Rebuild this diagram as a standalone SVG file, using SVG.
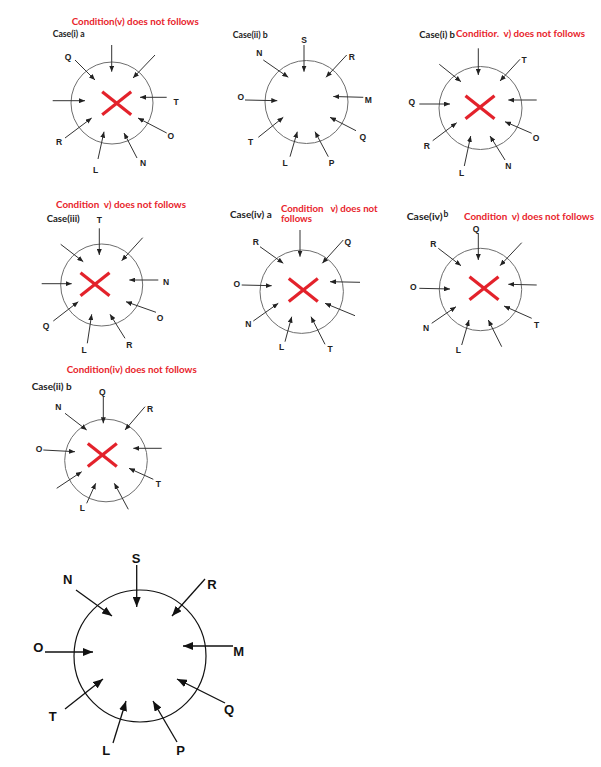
<svg xmlns="http://www.w3.org/2000/svg" width="601" height="767" viewBox="0 0 601 767">
<style>
.ring{fill:none;stroke:#6e6e6e;stroke-width:1}
.bigring{fill:none;stroke:#111;stroke-width:1.2}
.ar{stroke:#333;stroke-width:1;fill:none;marker-end:url(#ah)}
.bar{stroke:#111;stroke-width:1.3;fill:none;marker-end:url(#bh)}
.lb{font-family:"Liberation Sans",Arial,sans-serif;font-weight:bold;font-size:8.5px;fill:#222;text-anchor:middle}
.blb{font-family:"Liberation Sans",Arial,sans-serif;font-weight:bold;font-size:13px;fill:#111;text-anchor:middle}
.red{font-family:Lato,"Open Sans",sans-serif;font-weight:bold;font-size:9.5px;fill:#e8242c;white-space:pre}
.cs{font-family:Lato,"Open Sans",sans-serif;font-weight:bold;font-size:8.5px;fill:#222}
.x{stroke:#e3222b;stroke-width:3.2;stroke-linecap:butt;fill:none}
</style>
<defs>
<marker id="ah" viewBox="0 0 10 10" refX="10" refY="5" markerWidth="6" markerHeight="5" markerUnits="userSpaceOnUse" orient="auto" preserveAspectRatio="none"><path d="M0,0 L10,5 L0,10 z" fill="#222"/></marker>
<marker id="bh" viewBox="0 0 10 10" refX="10" refY="5" markerWidth="10" markerHeight="8" markerUnits="userSpaceOnUse" orient="auto" preserveAspectRatio="none"><path d="M0,0 L10,5 L0,10 z" fill="#111"/></marker>
<g id="cross"><line class="x" x1="-14.5" y1="-11.5" x2="14.5" y2="11.5"/><line class="x" x1="14.5" y1="-11.5" x2="-14.5" y2="11.5"/></g>
</defs>
<rect width="601" height="767" fill="#fff"/>

<!-- Panel 1 -->
<g id="case-i-a">
<text class="red" x="71.7" y="25" textLength="127" lengthAdjust="spacingAndGlyphs">Condition(v) does not follows</text>
<text class="cs" x="52.7" y="36.7" textLength="32" lengthAdjust="spacingAndGlyphs">Case(i) a</text>
<g id="p1-circle"><circle class="ring" cx="112" cy="103" r="41"/><use href="#cross" x="116.7" y="103.3"/></g>
<g id="p1-connectors">
<line class="ar" x1="111.7" y1="45" x2="111.7" y2="71.7"/>
<line class="ar" x1="75" y1="60" x2="95" y2="80"/>
<line class="ar" x1="155" y1="55" x2="133" y2="78"/>
<line class="ar" x1="52.7" y1="100.7" x2="85" y2="100.7"/>
<line class="ar" x1="166.7" y1="97.3" x2="140" y2="97.3"/>
<line class="ar" x1="65" y1="138" x2="91.7" y2="118"/>
<line class="ar" x1="166.7" y1="133" x2="138" y2="118"/>
<line class="ar" x1="98" y1="159" x2="104" y2="131.7"/>
<line class="ar" x1="137" y1="158" x2="124" y2="133"/>
</g>
<text class="lb" x="68" y="60">Q</text>
<text class="lb" x="176" y="104.7">T</text>
<text class="lb" x="59" y="144.7">R</text>
<text class="lb" x="170.7" y="139">O</text>
<text class="lb" x="95.7" y="173">L</text>
<text class="lb" x="143" y="166">N</text>
</g>

<!-- Panel 2 -->
<g id="case-ii-b-1">
<text class="cs" x="232.7" y="38.3" textLength="35" lengthAdjust="spacingAndGlyphs">Case(ii) b</text>
<g id="p2-circle"><circle class="ring" cx="306.5" cy="102" r="41.5"/></g>
<g id="p2-connectors">
<line class="ar" x1="304" y1="45" x2="304" y2="71.7"/>
<line class="ar" x1="263.3" y1="60" x2="288.3" y2="77.3"/>
<line class="ar" x1="346.7" y1="55" x2="326" y2="77.3"/>
<line class="ar" x1="363.3" y1="97.3" x2="333.3" y2="96.5"/>
<line class="ar" x1="245" y1="100" x2="277.3" y2="100.7"/>
<line class="ar" x1="258.3" y1="137.3" x2="283.3" y2="117.3"/>
<line class="ar" x1="356" y1="130.7" x2="330" y2="117.3"/>
<line class="ar" x1="290" y1="156.7" x2="297.3" y2="131.7"/>
<line class="ar" x1="328.3" y1="156.7" x2="315" y2="131.7"/>
</g>
<text class="lb" x="304" y="43">S</text>
<text class="lb" x="259.3" y="56.3">N</text>
<text class="lb" x="351.7" y="59.7">R</text>
<text class="lb" x="368.3" y="103">M</text>
<text class="lb" x="240.7" y="100.3">O</text>
<text class="lb" x="250.7" y="144.7">T</text>
<text class="lb" x="362.7" y="139.7">Q</text>
<text class="lb" x="285" y="165.7">L</text>
<text class="lb" x="331.7" y="165.7">P</text>
</g>

<!-- Panel 3 -->
<g id="case-i-b">
<text class="cs" x="419.3" y="38.3" textLength="35.7" lengthAdjust="spacingAndGlyphs">Case(i) b</text>
<text class="red" x="456" y="36.7" textLength="129" lengthAdjust="spacingAndGlyphs">Conditior.  v) does not follows</text>
<g id="p3-circle"><circle class="ring" cx="480.5" cy="108" r="41.5"/><use href="#cross" x="480" y="107.3"/></g>
<g id="p3-connectors">
<line class="ar" x1="478.3" y1="48.3" x2="478.3" y2="75"/>
<line class="ar" x1="439.3" y1="64.3" x2="461" y2="81.7"/>
<line class="ar" x1="520" y1="59.3" x2="500" y2="81"/>
<line class="ar" x1="419.3" y1="104" x2="450" y2="104"/>
<line class="ar" x1="536.7" y1="100" x2="508.3" y2="100"/>
<line class="ar" x1="432.7" y1="140.7" x2="456.7" y2="122.7"/>
<line class="ar" x1="531.7" y1="133.3" x2="505" y2="121.7"/>
<line class="ar" x1="464.3" y1="166" x2="470.7" y2="136"/>
<line class="ar" x1="505" y1="160" x2="490" y2="136"/>
</g>
<text class="lb" x="524" y="63">T</text>
<text class="lb" x="411.7" y="104.7">Q</text>
<text class="lb" x="426.7" y="149">R</text>
<text class="lb" x="536" y="141.3">O</text>
<text class="lb" x="461.7" y="175.7">L</text>
<text class="lb" x="508.3" y="169">N</text>
</g>

<!-- Panel 4 -->
<g id="case-iii">
<text class="red" x="56" y="208.3" textLength="130" lengthAdjust="spacingAndGlyphs">Condition  v) does not follows</text>
<text class="cs" x="46.7" y="222.3" textLength="33" lengthAdjust="spacingAndGlyphs">Case(iii)</text>
<g id="p4-circle"><circle class="ring" cx="101.7" cy="285" r="41"/><use href="#cross" x="95" y="284.3"/></g>
<g id="p4-connectors">
<line class="ar" x1="99.3" y1="228.3" x2="99.3" y2="255"/>
<line class="ar" x1="60.7" y1="244.3" x2="83.3" y2="261.7"/>
<line class="ar" x1="142.7" y1="237.7" x2="121.7" y2="260.7"/>
<line class="ar" x1="41.7" y1="283.7" x2="71.7" y2="283.7"/>
<line class="ar" x1="158.3" y1="280" x2="129.3" y2="280"/>
<line class="ar" x1="53.3" y1="321" x2="78.3" y2="301.7"/>
<line class="ar" x1="156" y1="312.3" x2="126" y2="301.7"/>
<line class="ar" x1="87.3" y1="343.3" x2="91.7" y2="314.3"/>
<line class="ar" x1="125" y1="338.3" x2="110" y2="314.3"/>
</g>
<text class="lb" x="99.3" y="223">T</text>
<text class="lb" x="166" y="284.7">N</text>
<text class="lb" x="46" y="328.7">Q</text>
<text class="lb" x="160" y="320.7">O</text>
<text class="lb" x="84" y="353">L</text>
<text class="lb" x="129.3" y="348">R</text>
</g>

<!-- Panel 5 -->
<g id="case-iv-a">
<text class="cs" x="230" y="217.7" textLength="41.7" lengthAdjust="spacingAndGlyphs">Case(iv) a</text>
<text class="red" x="281" y="211.7" textLength="96.7" lengthAdjust="spacingAndGlyphs">Condition   v) does not</text>
<text class="red" x="281" y="222.3" textLength="31" lengthAdjust="spacingAndGlyphs">follows</text>
<g id="p5-circle"><circle class="ring" cx="301.7" cy="291.7" r="41.7"/><use href="#cross" x="303.3" y="290"/></g>
<g id="p5-connectors">
<line class="ar" x1="300" y1="230" x2="300" y2="256.7"/>
<line class="ar" x1="260" y1="246.7" x2="283.3" y2="263.3"/>
<line class="ar" x1="343.3" y1="240" x2="322.3" y2="263.3"/>
<line class="ar" x1="241.7" y1="285" x2="271.7" y2="285.7"/>
<line class="ar" x1="360" y1="282.3" x2="330" y2="281.7"/>
<line class="ar" x1="253.3" y1="321" x2="278.3" y2="303.3"/>
<line class="ar" x1="355" y1="315.7" x2="325" y2="303.3"/>
<line class="ar" x1="285" y1="341.7" x2="291.7" y2="316.7"/>
<line class="ar" x1="325" y1="344.3" x2="311" y2="316.7"/>
</g>
<text class="lb" x="255.7" y="244.7">R</text>
<text class="lb" x="347.7" y="244.7">Q</text>
<text class="lb" x="236.7" y="287.3">O</text>
<text class="lb" x="248.3" y="327.3">N</text>
<text class="lb" x="281.7" y="349.7">L</text>
<text class="lb" x="330" y="352">T</text>
</g>

<!-- Panel 6 -->
<g id="case-iv-b">
<text class="cs" x="406.7" y="220" textLength="36" lengthAdjust="spacingAndGlyphs">Case(iv)</text>
<text class="cs" x="443.5" y="217.3">b</text>
<text class="red" x="464" y="220" textLength="130" lengthAdjust="spacingAndGlyphs">Condition  v) does not follows</text>
<g id="p6-circle"><circle class="ring" cx="480.5" cy="289.5" r="41.2"/><use href="#cross" x="484" y="288.3"/></g>
<g id="p6-connectors">
<line class="ar" x1="478.3" y1="233.3" x2="478.3" y2="260"/>
<line class="ar" x1="438.3" y1="248.3" x2="461" y2="265.7"/>
<line class="ar" x1="521.7" y1="242.7" x2="500" y2="265.7"/>
<line class="ar" x1="419.3" y1="288.3" x2="450" y2="289"/>
<line class="ar" x1="536.7" y1="285" x2="508.3" y2="284.3"/>
<line class="ar" x1="431.7" y1="323.3" x2="456" y2="306.7"/>
<line class="ar" x1="531.7" y1="318.3" x2="504" y2="306"/>
<line class="ar" x1="461.7" y1="345" x2="469" y2="320"/>
<line class="ar" x1="501.7" y1="346.7" x2="488.3" y2="320"/>
</g>
<text class="lb" x="476" y="232.3">Q</text>
<text class="lb" x="433.3" y="247">R</text>
<text class="lb" x="413.3" y="290.3">O</text>
<text class="lb" x="426" y="331.3">N</text>
<text class="lb" x="536.7" y="328">T</text>
<text class="lb" x="458.3" y="353">L</text>
</g>

<!-- Panel 7 -->
<g id="case-ii-b-2">
<text class="red" x="66.7" y="373.3" textLength="130" lengthAdjust="spacingAndGlyphs">Condition(iv) does not follows</text>
<text class="cs" x="31.7" y="390" textLength="40" lengthAdjust="spacingAndGlyphs">Case(ii) b</text>
<g id="p7-circle"><circle class="ring" cx="106" cy="460.5" r="41.3"/><use href="#cross" x="102.3" y="455"/></g>
<g id="p7-connectors">
<line class="ar" x1="103.3" y1="396.7" x2="103.3" y2="423.3"/>
<line class="ar" x1="65" y1="413.3" x2="86.7" y2="430"/>
<line class="ar" x1="145" y1="406.7" x2="125" y2="430"/>
<line class="ar" x1="43.3" y1="450" x2="75" y2="451.7"/>
<line class="ar" x1="161.7" y1="448.3" x2="133.3" y2="448.3"/>
<line class="ar" x1="56.7" y1="488.3" x2="81.7" y2="471.7"/>
<line class="ar" x1="153.3" y1="479.3" x2="129" y2="468.3"/>
<line class="ar" x1="86.7" y1="503.3" x2="95.7" y2="483.3"/>
<line class="ar" x1="128.3" y1="509.3" x2="114.3" y2="483.3"/>
</g>
<text class="lb" x="102.3" y="394.7">Q</text>
<text class="lb" x="58.3" y="409.7">N</text>
<text class="lb" x="150" y="412.3">R</text>
<text class="lb" x="39" y="452.3">O</text>
<text class="lb" x="158.3" y="487">T</text>
<text class="lb" x="82.3" y="511.3">L</text>
</g>

<!-- Big panel -->
<g id="final-arrangement">
<g id="big-circle"><circle class="bigring" cx="140" cy="656" r="66"/></g>
<g id="big-connectors">
<line class="bar" x1="136.7" y1="565" x2="136.7" y2="607"/>
<line class="bar" x1="76" y1="590" x2="112" y2="616"/>
<line class="bar" x1="205" y1="579" x2="172" y2="616"/>
<line class="bar" x1="233" y1="646" x2="183" y2="646"/>
<line class="bar" x1="45" y1="652" x2="93" y2="652"/>
<line class="bar" x1="65" y1="709" x2="103" y2="679"/>
<line class="bar" x1="113" y1="743" x2="126" y2="701"/>
<line class="bar" x1="177" y1="742" x2="153" y2="701"/>
<line class="bar" x1="225" y1="703" x2="177" y2="679"/>
</g>
<text class="blb" x="136" y="562.7">S</text>
<text class="blb" x="67.7" y="583.7">N</text>
<text class="blb" x="212" y="588.7">R</text>
<text class="blb" x="238.7" y="656.4">M</text>
<text class="blb" x="38.3" y="652.4">O</text>
<text class="blb" x="52.7" y="721.4">T</text>
<text class="blb" x="106.3" y="754.7">L</text>
<text class="blb" x="180.7" y="754.7">P</text>
<text class="blb" x="229" y="713.7">Q</text>
</g>
</svg>
